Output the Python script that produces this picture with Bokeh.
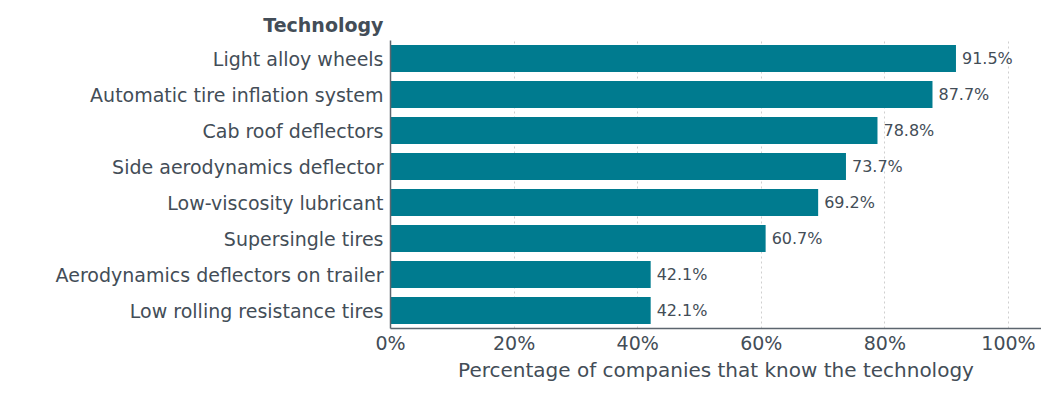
from bokeh.plotting import figure
from bokeh.models import ColumnDataSource, Title, FixedTicker, Range1d, FactorRange
from bokeh.embed import file_html
from bokeh.resources import INLINE
from bokeh.core.properties import value

categories = ["Light alloy wheels", "Automatic tire inflation system", "Cab roof deflectors",
              "Side aerodynamics deflector", "Low-viscosity lubricant", "Supersingle tires",
              "Aerodynamics deflectors on trailer", "Low rolling resistance tires"]
values = [91.5, 87.7, 78.8, 73.7, 69.2, 60.7, 42.1, 42.1]
x_ticks = [0, 20, 40, 60, 80, 100]

FONT = "DejaVu Sans"
TXT = "#434d57"
BAR = "#007b8f"

W, H = 1041, 384
LEFT = 390
src = ColumnDataSource(dict(cat=categories, val=values,
                            lab=[f"{v:.1f}%" for v in values]))

p = figure(width=W, height=H, output_backend="svg", toolbar_location=None,
           y_range=FactorRange(*reversed(categories), range_padding=0),
           x_range=Range1d(0, (W - LEFT) / 6.18),
           min_border_left=LEFT, min_border_right=0, min_border_top=40, min_border_bottom=40)
p.outline_line_color = None
p.background_fill_color = "white"

p.hbar(y="cat", right="val", height=0.75, source=src, color=BAR, line_color=None)
p.text(x="val", y="cat", text="lab", source=src, x_offset=6, text_baseline="middle",
       text_font=value(FONT), text_font_size="16px", text_color=TXT)

p.xaxis.ticker = FixedTicker(ticks=x_ticks)
p.xaxis.major_label_overrides = {t: f"{t}%" for t in x_ticks}
p.xaxis.axis_label = "Percentage of companies that know the technology"
for ax in (p.xaxis, p.yaxis):
    ax.major_tick_line_color = None
    ax.minor_tick_line_color = None
    ax.major_tick_out = 0
    ax.major_tick_in = 0
    ax.axis_line_color = "#5c656e"
    ax.axis_line_width = 1.5
    ax.major_label_text_font = FONT
    ax.major_label_text_font_size = "19px"
    ax.major_label_text_color = TXT
ax = p.xaxis
ax.axis_label_text_font = FONT
ax.axis_label_text_font_size = "20px"
ax.axis_label_text_font_style = "normal"
ax.axis_label_text_color = TXT
ax.major_label_standoff = 3
ax.axis_label_standoff = 1
p.yaxis.major_label_standoff = 7

p.ygrid.grid_line_color = None
p.xgrid.ticker = FixedTicker(ticks=[20, 40, 60, 80, 100])
p.xgrid.grid_line_color = "#cfcfcf"
p.xgrid.grid_line_dash = "2 3"
p.xgrid.grid_line_width = 1

p.add_layout(Title(text="Technology", align="right", offset=W - 383,
                   text_font=FONT, text_font_size="19px", text_font_style="bold",
                   text_color=TXT, standoff=10), "above")

open("out.html", "w").write(file_html(p, INLINE))
